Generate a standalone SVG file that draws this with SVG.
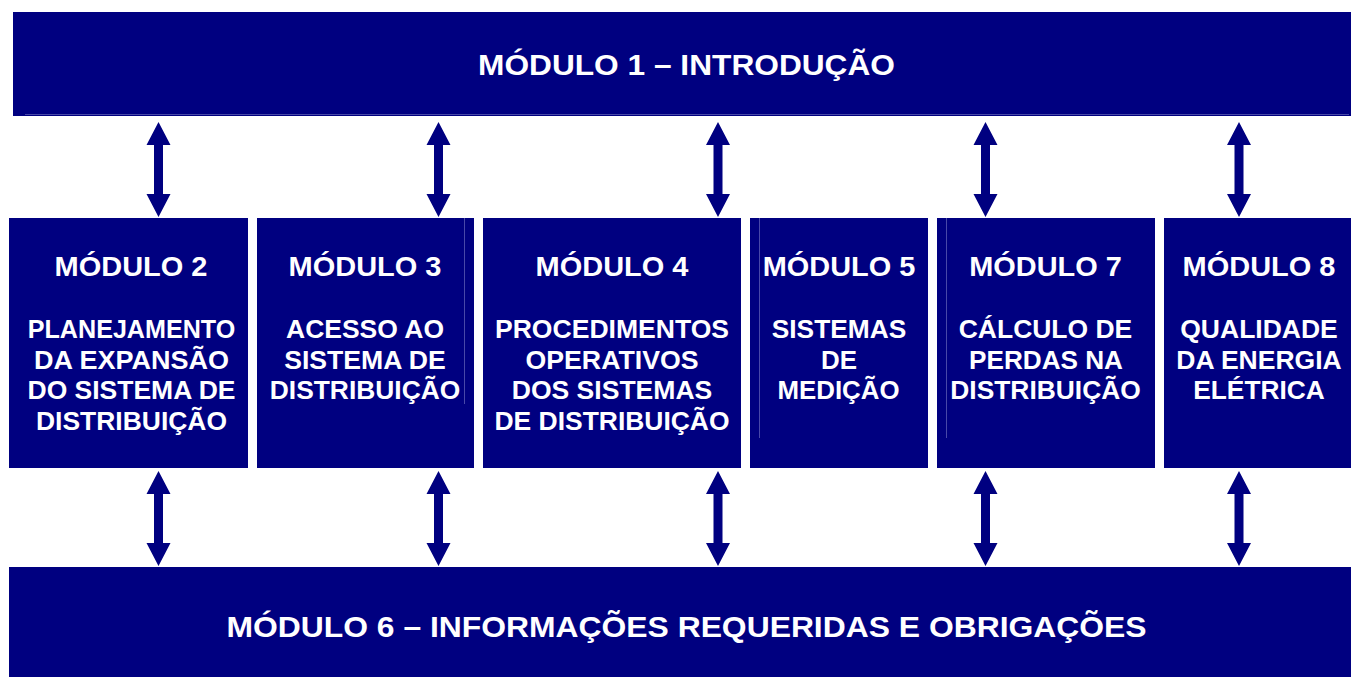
<svg xmlns="http://www.w3.org/2000/svg" width="1351" height="677" viewBox="0 0 1351 677">
  <defs>
    <style>
      .box { fill: #000080; }
      .seam { stroke: #4848a8; stroke-width: 1; fill: none; }
      .t { font-family: "Liberation Sans", Arial, sans-serif; font-weight: bold; fill: #ffffff; text-anchor: middle; }
      .big { font-size: 29px; }
      .hd { font-size: 27px; }
      .bd { font-size: 25px; }
      .arrow { fill: #000080; }
    </style>
    <path id="dbl" d="M0,0 L12,23 L4.5,23 L4.5,72 L12,72 L0,95 L-12,72 L-4.5,72 L-4.5,23 L-12,23 Z"/>
  </defs>
  <rect width="1351" height="677" fill="#ffffff"/>

  <g id="modulo1">
    <rect class="box" x="13" y="12" width="1338" height="104"/>
    <line class="seam" x1="25" y1="114.5" x2="1349" y2="114.5"/>
    <text class="t big" x="686.5" y="74.5" textLength="417" lengthAdjust="spacingAndGlyphs">MÓDULO 1 – INTRODUÇÃO</text>
  </g>

  <g id="modulo2">
    <rect class="box" x="9" y="218" width="239" height="250"/>
    <text class="t hd" x="131" y="276" textLength="153" lengthAdjust="spacingAndGlyphs">MÓDULO 2</text>
    <text class="t bd" x="131.5" y="338" textLength="207.5" lengthAdjust="spacingAndGlyphs">PLANEJAMENTO</text>
    <text class="t bd" x="131.5" y="368.5" textLength="195" lengthAdjust="spacingAndGlyphs">DA EXPANSÃO</text>
    <text class="t bd" x="131.5" y="399" textLength="208" lengthAdjust="spacingAndGlyphs">DO SISTEMA DE</text>
    <text class="t bd" x="131.5" y="429.5" textLength="191" lengthAdjust="spacingAndGlyphs">DISTRIBUIÇÃO</text>
  </g>

  <g id="modulo3">
    <rect class="box" x="257" y="218" width="217" height="250"/>
    <line class="seam" x1="464.5" y1="218" x2="464.5" y2="404"/>
    <text class="t hd" x="365" y="276" textLength="153" lengthAdjust="spacingAndGlyphs">MÓDULO 3</text>
    <text class="t bd" x="365" y="338" textLength="158" lengthAdjust="spacingAndGlyphs">ACESSO AO</text>
    <text class="t bd" x="365" y="368.5" textLength="161.5" lengthAdjust="spacingAndGlyphs">SISTEMA DE</text>
    <text class="t bd" x="365" y="399" textLength="190.5" lengthAdjust="spacingAndGlyphs">DISTRIBUIÇÃO</text>
  </g>

  <g id="modulo4">
    <rect class="box" x="483" y="218" width="258" height="250"/>
    <text class="t hd" x="612" y="276" textLength="153" lengthAdjust="spacingAndGlyphs">MÓDULO 4</text>
    <text class="t bd" x="612" y="338" textLength="234" lengthAdjust="spacingAndGlyphs">PROCEDIMENTOS</text>
    <text class="t bd" x="612" y="368.5" textLength="173" lengthAdjust="spacingAndGlyphs">OPERATIVOS</text>
    <text class="t bd" x="612" y="399" textLength="200.5" lengthAdjust="spacingAndGlyphs">DOS SISTEMAS</text>
    <text class="t bd" x="612" y="429.5" textLength="235" lengthAdjust="spacingAndGlyphs">DE DISTRIBUIÇÃO</text>
  </g>

  <g id="modulo5">
    <rect class="box" x="750" y="218" width="178" height="250"/>
    <line class="seam" x1="759.5" y1="218" x2="759.5" y2="438"/>
    <text class="t hd" x="839" y="276" textLength="152.5" lengthAdjust="spacingAndGlyphs">MÓDULO 5</text>
    <text class="t bd" x="839" y="338" textLength="134.5" lengthAdjust="spacingAndGlyphs">SISTEMAS</text>
    <text class="t bd" x="839" y="368.5" textLength="36" lengthAdjust="spacingAndGlyphs">DE</text>
    <text class="t bd" x="838.5" y="399" textLength="122" lengthAdjust="spacingAndGlyphs">MEDIÇÃO</text>
  </g>

  <g id="modulo7">
    <rect class="box" x="937" y="218" width="218" height="250"/>
    <line class="seam" x1="946.5" y1="218" x2="946.5" y2="438"/>
    <text class="t hd" x="1045.5" y="276" textLength="152.5" lengthAdjust="spacingAndGlyphs">MÓDULO 7</text>
    <text class="t bd" x="1045.5" y="338" textLength="173.5" lengthAdjust="spacingAndGlyphs">CÁLCULO DE</text>
    <text class="t bd" x="1046" y="368.5" textLength="154" lengthAdjust="spacingAndGlyphs">PERDAS NA</text>
    <text class="t bd" x="1045.5" y="399" textLength="190.5" lengthAdjust="spacingAndGlyphs">DISTRIBUIÇÃO</text>
  </g>

  <g id="modulo8">
    <rect class="box" x="1164" y="218" width="187" height="250"/>
    <text class="t hd" x="1259" y="276" textLength="153" lengthAdjust="spacingAndGlyphs">MÓDULO 8</text>
    <text class="t bd" x="1259" y="338" textLength="157.5" lengthAdjust="spacingAndGlyphs">QUALIDADE</text>
    <text class="t bd" x="1259" y="368.5" textLength="165.5" lengthAdjust="spacingAndGlyphs">DA ENERGIA</text>
    <text class="t bd" x="1259" y="399" textLength="131.5" lengthAdjust="spacingAndGlyphs">ELÉTRICA</text>
  </g>

  <g id="modulo6">
    <rect class="box" x="9" y="567" width="1342" height="110"/>
    <text class="t big" x="686.5" y="636.5" style="font-size:30px" textLength="920" lengthAdjust="spacingAndGlyphs">MÓDULO 6 – INFORMAÇÕES REQUERIDAS E OBRIGAÇÕES</text>
  </g>

  <g id="connectors" class="arrow">
    <use href="#dbl" x="158.5" y="122"/>
    <use href="#dbl" x="438.5" y="122"/>
    <use href="#dbl" x="718" y="122"/>
    <use href="#dbl" x="985.5" y="122"/>
    <use href="#dbl" x="1239" y="122"/>
    <use href="#dbl" x="158.5" y="471"/>
    <use href="#dbl" x="438.5" y="471"/>
    <use href="#dbl" x="718" y="471"/>
    <use href="#dbl" x="985.5" y="471"/>
    <use href="#dbl" x="1239" y="471"/>
  </g>
</svg>
